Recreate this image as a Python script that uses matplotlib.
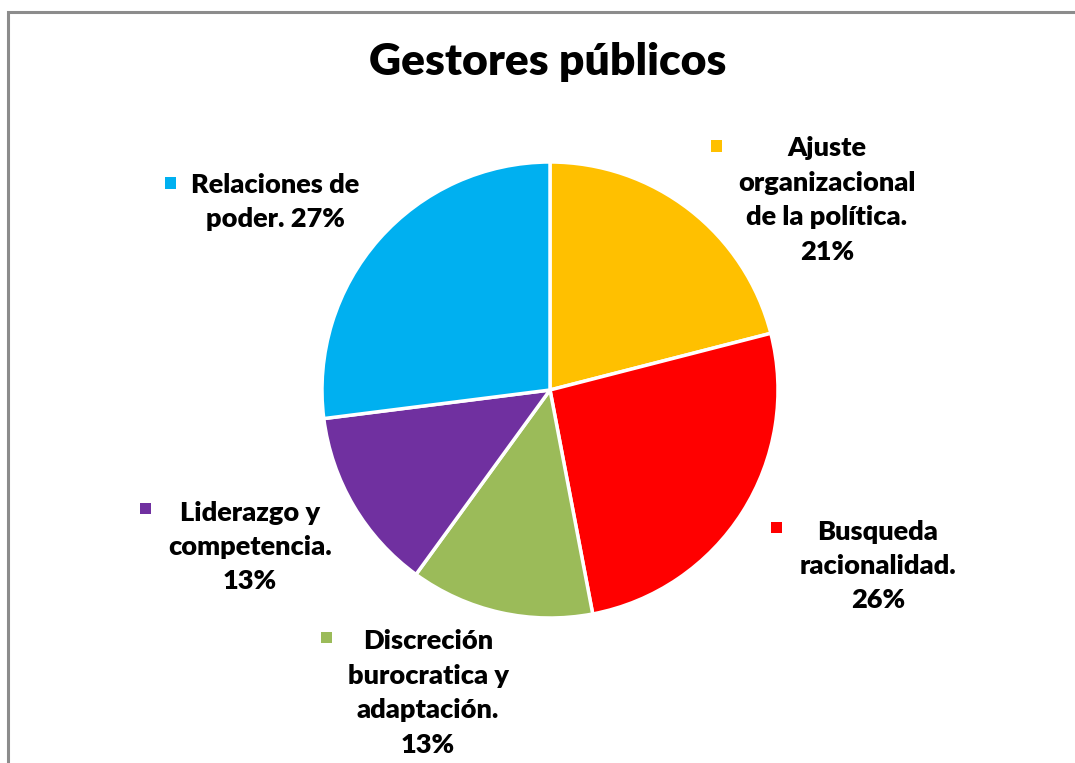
import matplotlib
matplotlib.use("Agg")
import matplotlib.pyplot as plt
from matplotlib.patches import Rectangle

categories = ["Ajuste organizacional de la política.", "Busqueda racionalidad.",
              "Discreción burocratica y adaptación.", "Liderazgo y competencia.",
              "Relaciones de poder."]
values = [21, 26, 13, 13, 27]
colors = ["#FFC000", "#FF0000", "#9BBB59", "#7030A0", "#00B0F0"]
label_texts = ["Ajuste\norganizacional\nde la política.\n21%",
               "Busqueda\nracionalidad.\n26%",
               "Discreción\nburocratica y\nadaptación.\n13%",
               "Liderazgo y\ncompetencia.\n13%",
               "Relaciones de\npoder. 27%"]
title = "Gestores públicos"

W, H = 1075, 763
fig = plt.figure(figsize=(W/100, H/100), dpi=100)
plt.rcParams['font.family'] = ['Lato', 'DejaVu Sans']

def fx(x): return x / W
def fy(y): return 1 - y / H

# outer frame
fig.patches.append(Rectangle((fx(7.5), fy(1000)), 2, fy(12.5) - fy(1000),
                             transform=fig.transFigure, fill=False,
                             edgecolor="#8c8c8c", linewidth=2.2))

cx, cy, r = 550, 390, 228
ax = fig.add_axes([fx(cx - r), fy(cy + r), 2*r/W, 2*r/H])
ax.pie(values, colors=colors, startangle=90, counterclock=False,
       wedgeprops=dict(edgecolor="white", linewidth=2.5))
ax.set_xlim(-1.0, 1.0)
ax.set_ylim(-1.0, 1.0)
ax.set_axis_off()

fig.text(fx(548), fy(62), title, ha="center", va="center",
         fontsize=32, fontweight="heavy")

# label centres (x, y of block centre) and marker positions
label_pos = [(827, 200), (878, 566), (428, 693), (250, 547), (275, 202)]
marker_pos = [(716, 146), (776, 527), (326, 637), (145, 508), (170, 183)]
for txt, (x, y), (mx, my), c in zip(label_texts, label_pos, marker_pos, colors):
    fig.text(fx(x), fy(y), txt, ha="center", va="center", fontsize=19.5,
             fontweight="heavy", linespacing=1.52, multialignment="center")
    s = 11
    fig.patches.append(Rectangle((fx(mx - s/2), fy(my + s/2)), s/W, s/H,
                                 transform=fig.transFigure, facecolor=c,
                                 edgecolor="none"))

fig.savefig("out.png", dpi=100)
